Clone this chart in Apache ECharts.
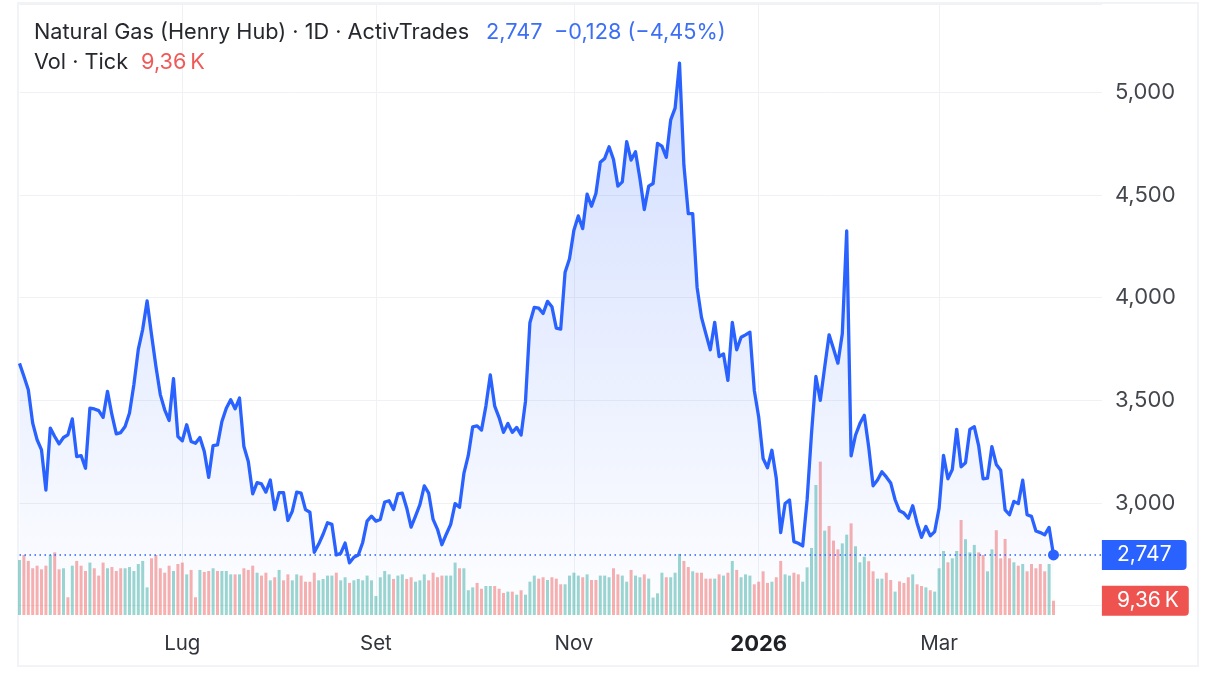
<!DOCTYPE html>
<html>
<head>
<meta charset="utf-8">
<title>Natural Gas (Henry Hub)</title>
<script src="https://cdn.jsdelivr.net/npm/echarts@6/dist/echarts.min.js"></script>
<style>
  html, body { margin: 0; padding: 0; background: #fff; }
  #chart { width: 1217px; height: 694px; }
</style>
</head>
<body>
<div id="chart"></div>
<script>
// Daily close
var prices = [
  3680, 3617, 3552, 3389, 3308, 3259, 3063, 3365, 3324, 3288,
  3319, 3332, 3410, 3226, 3231, 3169, 3462, 3458, 3450, 3417,
  3544, 3430, 3337, 3343, 3373, 3438, 3577, 3748, 3846, 3984,
  3821, 3666, 3528, 3454, 3402, 3606, 3324, 3303, 3381, 3300,
  3291, 3319, 3251, 3125, 3280, 3283, 3397, 3462, 3503, 3459,
  3511, 3275, 3202, 3045, 3099, 3093, 3053, 3112, 2968, 3051,
  3051, 2915, 2960, 3053, 3048, 2968, 2955, 2760, 2800, 2848,
  2904, 2896, 2747, 2755, 2805, 2709, 2736, 2747, 2808, 2912,
  2936, 2912, 2920, 3005, 3011, 2968, 3045, 3048, 2976, 2883,
  2936, 2992, 3083, 3048, 2920, 2872, 2797, 2848, 2896, 2997,
  2979, 3144, 3232, 3371, 3376, 3355, 3472, 3624, 3472, 3416,
  3344, 3387, 3344, 3368, 3331, 3496, 3878, 3953, 3949, 3923,
  3982, 3956, 3852, 3847, 4124, 4189, 4328, 4398, 4336, 4504,
  4445, 4507, 4659, 4678, 4735, 4673, 4543, 4564, 4760, 4670,
  4711, 4580, 4429, 4543, 4556, 4751, 4738, 4683, 4866, 4923,
  5142, 4645, 4409, 4409, 4050, 3904, 3824, 3746, 3880, 3713,
  3726, 3597, 3880, 3746, 3807, 3819, 3832, 3548, 3419, 3217,
  3172, 3257, 3120, 2856, 2998, 3015, 2812, 2804, 2791, 3015,
  3338, 3616, 3500, 3662, 3819, 3751, 3681, 3824, 4325, 3230,
  3330, 3387, 3427, 3273, 3084, 3112, 3152, 3127, 3098, 3016,
  2962, 2951, 2926, 2987, 2902, 2833, 2886, 2840, 2861, 2975,
  3232, 3118, 3163, 3359, 3176, 3196, 3359, 3372, 3278, 3118,
  3121, 3275, 3188, 3160, 2967, 2943, 3008, 2997, 3111, 2943,
  2935, 2864, 2856, 2845, 2881, 2747
];

// Tick volume in thousands
var volumes = [
  36, 39.3, 35.4, 30.6, 32.3, 29.9, 32.3, 39.3, 41, 29.9,
  30.6, 11.6, 32.3, 35.4, 32.3, 28.8, 34.3, 30.6, 25.8, 34.3,
  30.6, 31.4, 28.8, 30.6, 30.6, 31.4, 28.8, 33.4, 35.4, 18.1,
  37.1, 39.3, 30.6, 27.7, 32.3, 28.8, 33.4, 34.3, 26.6, 29.5,
  11.6, 29.5, 28.2, 28.8, 30.6, 28.8, 28.8, 28.8, 26.6, 26.6,
  26.6, 30.6, 29.5, 32.3, 27.7, 25.8, 27.7, 22.7, 24.7, 29.5,
  22.7, 26.6, 22.7, 26.6, 25.8, 21.8, 21.8, 27.7, 22.7, 23.6,
  25.8, 25.8, 27.7, 22.7, 24.7, 21, 22.7, 23.6, 22.7, 25.8,
  22.7, 12.4, 24.7, 28.8, 26.6, 23.6, 25.8, 26.6, 23.6, 24.7,
  21.8, 22.7, 26.6, 22.7, 27.7, 24.7, 25.8, 25.8, 25.8, 34.3,
  30.6, 30.6, 16.2, 18.1, 21, 17.2, 19, 19, 19, 17.2,
  14.4, 15.3, 15.3, 13.3, 16.2, 13.3, 21.8, 25.8, 23.8, 24.7,
  22.9, 24.7, 23.8, 20.1, 20.1, 25.8, 27.7, 25.8, 24.7, 26.6,
  22.9, 22.9, 25.8, 25.8, 24.7, 30.6, 26.6, 25.8, 21.8, 29.5,
  25.8, 24.7, 26.6, 23.8, 11.4, 14.2, 27.7, 24.7, 24.7, 27.7,
  40, 35.4, 31.4, 28.6, 27.7, 27.7, 23.8, 23.8, 23.8, 26.6,
  25.8, 27.7, 35.4, 29.5, 24.7, 26.6, 25.8, 20.1, 21.8, 28.6,
  21, 21.8, 24.7, 35.4, 26.6, 25.8, 27.7, 26.6, 21.8, 31.2,
  43.9, 85.1, 100.4, 55.2, 58.3, 48.7, 43, 46.9, 52.6, 60,
  45, 34.5, 38.2, 35.2, 28.6, 23.8, 23.8, 27.7, 22.9, 15.3,
  22, 21, 24.7, 26.6, 20.1, 19, 18.1, 16.2, 15.3, 30.6,
  41.9, 34.5, 37.1, 41.9, 62.2, 49.6, 41, 45.9, 41, 39.3,
  28.6, 43, 55.5, 37.1, 49.8, 37.1, 34.5, 32.3, 33.4, 28.6,
  33.4, 30.6, 33.4, 28.6, 33.4, 9.36
];

// G = up day, R = down day
var volumeSides = (
  'GRRRRRRGRR' + 'GRGRRRGRRR' + 'GRRRGGGGGG' + 'RRRRRGRRGR' +
  'RGRRGRGGGR' + 'GRRRGRRGRG' + 'RRGGRRRRGG' + 'GGRGGRGGGG' +
  'GGGGGRGGRR' + 'GGGRRRRGGG' + 'RGGGRRGGRR' + 'RGRGRGGGRR' +
  'GRRRGGGGRG' + 'RRGGGRRGGR' + 'GGRGGGGRGG' + 'GRRGRRRRGR' +
  'GRGRGGGRRR' + 'RGRRGGRRGG' + 'GGRGRRRGGR' + 'GGGRRGGRRG' +
  'RRRGRRGRGG' + 'GRGGRGGGRR' + 'GGRRRRGRGR' + 'RRRRGR'
).split('');

var tickLabels = ['Lug', 'Set', 'Nov', '2026', 'Mar'];
var tickIndex = [37, 81, 126, 168, 209];

var headerName = 'Natural Gas (Henry Hub) · 1D · ActivTrades';
var headerLast = '2,747';
var headerChange = '−0,128 (−4,45%)';
var volName = 'Vol · Tick';
var volLast = '9,36\u2009K';

var BLUE = '#2962ff';
var RED = '#ef5350';
var FONT = 'Inter, Roboto, sans-serif';
var SLOTS = 247; // the axis runs on past the last bar, up to the badges

var categories = [];
for (var i = 0; i < SLOTS; i++) {
  var t = tickIndex.indexOf(i);
  categories.push(t >= 0 ? tickLabels[t] : '');
}

function isTick(index) {
  return tickIndex.indexOf(index) >= 0;
}

var chart = echarts.init(document.getElementById('chart'));

function headerText(text, left, top, color) {
  return {
    text: text, left: left, top: top, padding: 0,
    textStyle: {color: color, fontFamily: FONT, fontSize: 21.7, fontWeight: 400}
  };
}

var lastIndex = prices.length - 1;
var lastPrice = prices[lastIndex];
var lastVolume = volumes[lastIndex];

chart.setOption({
  animation: false,
  backgroundColor: '#fff',
  title: [
    headerText(headerName, 34, 21, '#26282e'),
    headerText(headerLast, 486, 21, '#3d6ff5'),
    headerText(headerChange, 554, 21, '#3d6ff5'),
    headerText(volName, 34, 51, '#26282e'),
    headerText(volLast, 141, 51, '#ef5a58')
  ],
  graphic: [{
    type: 'rect', silent: true, z: -1,
    shape: {x: 18, y: 3, width: 1180, height: 663},
    style: {fill: 'none', stroke: '#f2f3f6', lineWidth: 2}
  }],
  grid: [
    {left: 19.5, right: 115.1, top: 4, height: 601.7},
    {left: 19.5, right: 115.1, top: 4, height: 611}
  ],
  xAxis: [
    {
      type: 'category', gridIndex: 0, data: categories, boundaryGap: false, show: false
    },
    {
      type: 'category', gridIndex: 1, data: categories, boundaryGap: false,
      axisLine: {show: false},
      axisTick: {show: false},
      axisLabel: {
        interval: function (index) { return isTick(index); },
        margin: 18,
        color: '#32353c', fontFamily: FONT, fontSize: 20.5,
        formatter: function (value) {
          return value === '2026' ? '{year|2026}' : value;
        },
        rich: {year: {fontWeight: 700, fontSize: 22, fontFamily: FONT, color: '#1f2126'}}
      },
      splitLine: {
        show: true,
        interval: function (index) { return isTick(index); },
        lineStyle: {color: '#eff1f5', width: 1}
      }
    }
  ],
  yAxis: [
    {
      type: 'value', gridIndex: 0, position: 'right',
      min: 2500, max: 5430, interval: 500,
      axisLine: {show: false},
      axisTick: {show: false},
      axisLabel: {
        margin: 13, color: '#43464d', fontFamily: FONT, fontSize: 22,
        padding: [0, 0, 5, 0],
        showMinLabel: false, showMaxLabel: false,
        formatter: function (v) { return String(v).replace(/(\d)(\d{3})$/, '$1,$2'); }
      },
      splitLine: {lineStyle: {color: '#f0f1f5', width: 1}}
    },
    {
      type: 'value', gridIndex: 1, min: 0, max: 400, show: false, splitLine: {show: false}
    }
  ],
  series: [
    {
      name: 'Vol', type: 'bar', xAxisIndex: 1, yAxisIndex: 1, barWidth: 3,
      data: volumes.map(function (v, idx) {
        return {
          value: v,
          itemStyle: {color: volumeSides[idx] === 'G' ? 'rgba(38,166,154,0.46)' : 'rgba(239,83,80,0.46)'}
        };
      }),
      markLine: {
        silent: true, symbol: 'none',
        lineStyle: {color: 'transparent', width: 1},
        label: {
          show: true, position: 'end', distance: 0, formatter: volLast,
          color: '#fff', fontFamily: FONT, fontSize: 21, lineHeight: 22,
          backgroundColor: RED, padding: [4, 10, 4, 15], borderRadius: [0, 4, 4, 0]
        },
        data: [{yAxis: lastVolume}]
      }
    },
    {
      name: 'Natural Gas', type: 'line', xAxisIndex: 0, yAxisIndex: 0, z: 3,
      data: prices, showSymbol: false, smooth: false,
      lineStyle: {color: BLUE, width: 3.3, join: 'round'},
      itemStyle: {color: BLUE},
      areaStyle: {
        color: new echarts.graphic.LinearGradient(0, 0, 0, 1, [
          {offset: 0, color: 'rgba(41,98,255,0.30)'},
          {offset: 1, color: 'rgba(41,98,255,0.01)'}
        ])
      },
      markPoint: {
        silent: true, symbol: 'circle', symbolSize: 11,
        itemStyle: {color: BLUE},
        label: {show: false},
        data: [{coord: [lastIndex, lastPrice]}]
      },
      markLine: {
        silent: true, symbol: 'none',
        lineStyle: {color: BLUE, type: [1.5, 3.5], width: 1.5},
        label: {
          show: true, position: 'end', distance: 0, formatter: headerLast,
          color: '#fff', fontFamily: FONT, fontSize: 21, lineHeight: 22,
          backgroundColor: BLUE, padding: [4, 15, 4, 15], borderRadius: [0, 4, 4, 0]
        },
        data: [{yAxis: lastPrice}]
      }
    }
  ]
});
</script>
</body>
</html>
